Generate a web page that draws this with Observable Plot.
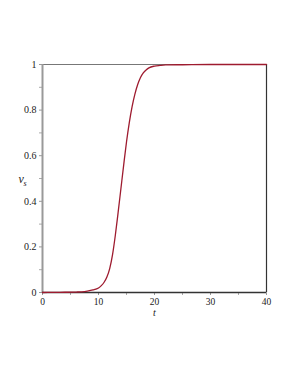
<!DOCTYPE html>
<html>
<head>
<meta charset="utf-8">
<script src="https://cdn.jsdelivr.net/npm/d3@7"></script>
<script src="https://cdn.jsdelivr.net/npm/@observablehq/plot@0.6"></script>
<style>
  html, body { margin: 0; padding: 0; background: #fff; }
  #chart svg { display: block; }
</style>
</head>
<body>
<div id="chart"></div>
<script>
// Data
const tValues = [0, 2, 4, 6, 7, 8, 9, 10, 10.5, 11, 11.5, 12, 12.5, 13, 13.5, 14, 14.5, 15, 15.5, 16, 16.5, 17, 17.5, 18, 18.5, 19, 20, 21, 22, 25, 30, 35, 40];
const vsValues = [0.0, 0.0005, 0.001, 0.002, 0.003, 0.006, 0.011, 0.02, 0.03, 0.045, 0.068, 0.105, 0.165, 0.25, 0.35, 0.455, 0.56, 0.66, 0.745, 0.815, 0.87, 0.912, 0.943, 0.963, 0.976, 0.985, 0.993, 0.996, 0.998, 0.999, 1.0, 1.0, 1.0];
const xMajorTicks = [0, 10, 20, 30, 40];
const xMinorTicks = [5, 15, 25, 35];
const yMajorTicks = [0, 0.2, 0.4, 0.6, 0.8, 1];
const yMinorTicks = [0.1, 0.3, 0.5, 0.7, 0.9];

const data = tValues.map((t, i) => ({t, v: vsValues[i]}));
const font = "Liberation Serif";

const chart = Plot.plot({
  width: 291,
  height: 376,
  marginLeft: 42,
  marginRight: 25,
  marginTop: 64,
  marginBottom: 84,
  style: {fontFamily: font, fontSize: "10px", color: "#222", background: "#fff"},
  x: {domain: [0, 40]},
  y: {domain: [0, 1]},
  marks: [
    Plot.axisX(xMinorTicks, {tickSize: 3, stroke: "#aaa", tickFormat: () => "", label: null}),
    Plot.axisY(yMinorTicks, {tickSize: 3, stroke: "#aaa", tickFormat: () => "", label: null}),
    Plot.axisX(xMajorTicks, {tickSize: 3, stroke: "#999", tickPadding: 3, tickFormat: d => String(d), label: null, fontSize: 9.5}),
    Plot.axisY(yMajorTicks, {tickSize: 3, stroke: "#999", tickPadding: 3, tickFormat: d => String(d), label: null, fontSize: 10}),
    Plot.ruleY([1], {stroke: "#777", strokeWidth: 1.2}),
    Plot.ruleX([40], {stroke: "#333", strokeWidth: 1.2}),
    Plot.ruleX([0], {stroke: "#999", strokeWidth: 2}),
    Plot.ruleY([0], {stroke: "#333", strokeWidth: 1.5}),
    Plot.line(data, {x: "t", y: "v", stroke: "#9e1b2f", strokeWidth: 1.3, curve: "monotone-x"}),
    Plot.text(["v"], {frameAnchor: "left", dx: -24, dy: 1, fontStyle: "italic", fontSize: 12, fill: "#222"}),
    Plot.text(["s"], {frameAnchor: "left", dx: -19, dy: 5, fontStyle: "italic", fontSize: 8, fill: "#222"}),
    Plot.text(["t"], {frameAnchor: "bottom", lineAnchor: "top", dy: 16, fontStyle: "italic", fontSize: 10, fill: "#222"})
  ]
});
document.getElementById("chart").append(chart);
d3.select(chart).selectAll("text").style("font-family", "'Liberation Serif', serif");
</script>
</body>
</html>
